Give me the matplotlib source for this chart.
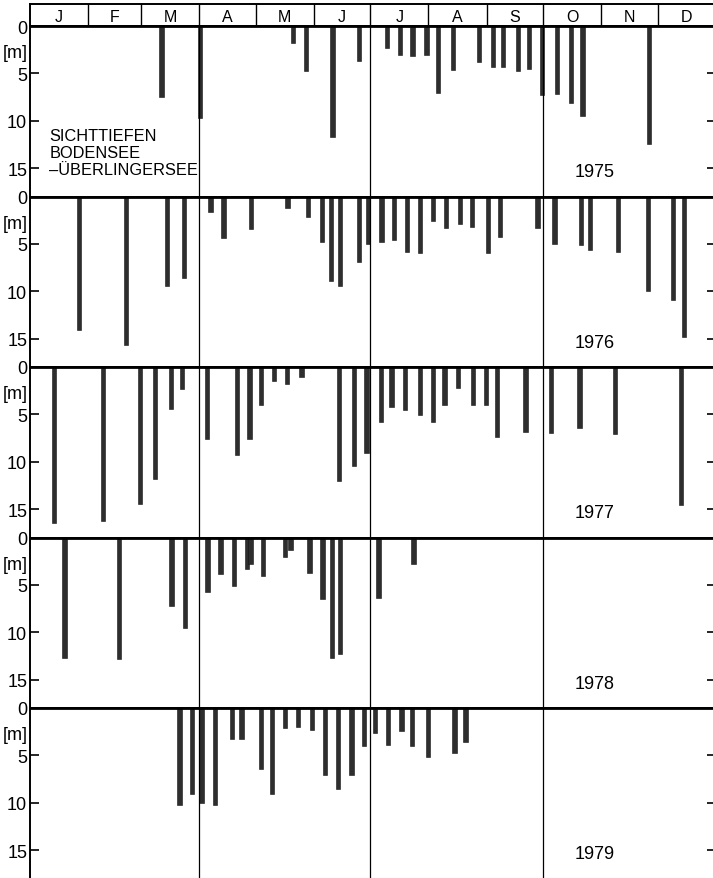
import matplotlib
matplotlib.use("Agg")
import matplotlib.pyplot as plt
import matplotlib.transforms as mtransforms

plt.rcParams['font.family'] = ['Liberation Sans', 'DejaVu Sans']

# month header
months = ['J', 'F', 'M', 'A', 'M', 'J', 'J', 'A', 'S', 'O', 'N', 'D']
month_days = [31, 28, 31, 30, 31, 30, 31, 31, 30, 31, 30, 31]

years = ['1975', '1976', '1977', '1978', '1979']

# day of year of each reading, and Secchi depth in m
days_1975 = [70, 90.5, 140, 147, 161, 175, 190, 197, 203.6, 211, 217, 225, 239,
             246.5, 251.7, 259.7, 265.6, 272.5, 280.5, 288, 294, 329.5]
depth_1975 = [7.5, 9.7, 1.8, 4.8, 11.7, 3.7, 2.3, 3.1, 3.2, 3.1, 7.1, 4.6, 3.8,
              4.3, 4.3, 4.7, 4.5, 7.3, 7.2, 8.1, 9.5, 12.5]

days_1976 = [26, 51, 73, 82, 96, 103, 117.6, 137, 148, 155.4, 160, 165, 175, 180,
             187, 193.7, 200.6, 207.6, 214.5, 221.4, 228.8, 235, 243.7, 250, 270,
             279, 293, 298, 313, 328.7, 342, 348]
depth_1976 = [14.1, 15.7, 9.4, 8.6, 1.6, 4.4, 3.4, 1.2, 2.2, 4.8, 8.9, 9.5, 6.9, 5.0,
              4.8, 4.6, 5.9, 6.0, 2.6, 3.3, 2.9, 3.2, 6.0, 4.3, 3.3,
              5.0, 5.1, 5.7, 5.9, 10.0, 10.9, 14.8]

days_1977 = [12.6, 38.7, 58.7, 66.5, 75, 81, 94, 110, 116.8, 123, 130, 136.7, 144.5,
             164.5, 172.4, 179, 186.8, 192.4, 199.7, 207.6, 214.4, 220.6, 227.7,
             235.8, 242.7, 248.4, 263.7, 277.3, 292.4, 311.2, 346.3]
depth_1977 = [16.5, 16.3, 14.5, 11.8, 4.45, 2.3, 7.6, 9.3, 7.6, 4.0, 1.5, 1.8, 1.1,
              12.0, 10.5, 9.05, 5.8, 4.25, 4.5, 5.06, 5.8, 4.0, 2.2,
              4.0, 3.97, 7.4, 6.9, 7.0, 6.4, 7.1, 14.6]

days_1978 = [18.3, 47.2, 75.3, 82.3, 94.4, 101.4, 108.5, 115.3, 117.4, 124, 135.7,
             138.6, 148.7, 155.7, 160.6, 164.9, 185.5, 204]
depth_1978 = [12.7, 12.8, 7.2, 9.6, 5.8, 3.9, 5.1, 3.3, 2.8, 4.1, 2.1,
              1.35, 3.7, 6.5, 12.7, 12.3, 6.4, 2.8]

days_1979 = [79.5, 86.2, 91.2, 98.3, 107.4, 112.6, 122.8, 128.8, 135.6, 142.7, 150,
             156.9, 163.7, 171, 177.8, 183.7, 190.5, 197.7, 203.4, 211.8, 225.8, 231.7]
depth_1979 = [10.2, 9.1, 10.0, 10.2, 3.3, 3.3, 6.4, 9.1, 2.1, 2.05, 2.3,
              7.1, 8.6, 7.1, 4.0, 2.65, 3.9, 2.4, 4.0, 5.2, 4.8, 3.6]

all_days = [days_1975, days_1976, days_1977, days_1978, days_1979]
all_depths = [depth_1975, depth_1976, depth_1977, depth_1978, depth_1979]

W, H = 713, 879
fig = plt.figure(figsize=(W / 100, H / 100), dpi=100)

left = 30 / W
width = 686 / W
xmax = 365

# month boundaries
edges = [0]
for d in month_days:
    edges.append(edges[-1] + d)
quarters = [edges[3], edges[6], edges[9]]

# header with the month names
hax = fig.add_axes([left, 1 - 27 / H, width, 22 / H])
hax.set_xlim(0, xmax)
hax.set_ylim(0, 1)
hax.set_xticks([])
hax.set_yticks([])
for s in hax.spines.values():
    s.set_linewidth(1.4)
for e in edges[1:-1]:
    hax.axvline(e, color='black', lw=1.0)
for i, m in enumerate(months):
    hax.text((edges[i] + edges[i + 1]) / 2, 0.42, m, ha='center', va='center', fontsize=11.5)

panel_h = 170.5
for i in range(5):
    top = 27 + panel_h * i
    ax = fig.add_axes([left, 1 - (top + panel_h) / H, width, panel_h / H])
    ax.bar(all_days[i], all_depths[i], width=2.3, color='#2e2e2e', edgecolor='#141414', lw=0.4)
    ax.set_xlim(0, xmax)
    ax.set_ylim(18, 0)
    ax.set_xticks([])
    ax.set_yticks([0, 5, 10, 15])
    ax.set_yticklabels(['0', '5', '10', '15'], fontsize=13)
    ax.tick_params(axis='y', direction='in', length=6.5, width=1.2, pad=2,
                   left=True, right=True, labelleft=True, labelright=False)
    ax.spines['top'].set_linewidth(2.0)
    ax.spines['left'].set_linewidth(1.4)
    ax.spines['bottom'].set_linewidth(1.4)
    ax.spines['right'].set_linewidth(1.4)
    for q in quarters:
        ax.axvline(q, color='black', lw=0.9)
    # unit label under the 0
    trans = mtransforms.blended_transform_factory(ax.transAxes, ax.transData)
    ax.text(-0.004, 2.8, '[m]', transform=trans, ha='right', va='center', fontsize=13)
    ax.text(290, 15.4, years[i], ha='left', va='center', fontsize=13)
    if i == 0:
        ax.text(10.3, 10.8, 'SICHTTIEFEN\nBODENSEE\n\u2013\u00dcBERLINGERSEE', ha='left', va='top',
                fontsize=11.8, linespacing=1.15)

fig.savefig('out.png', dpi=100)
